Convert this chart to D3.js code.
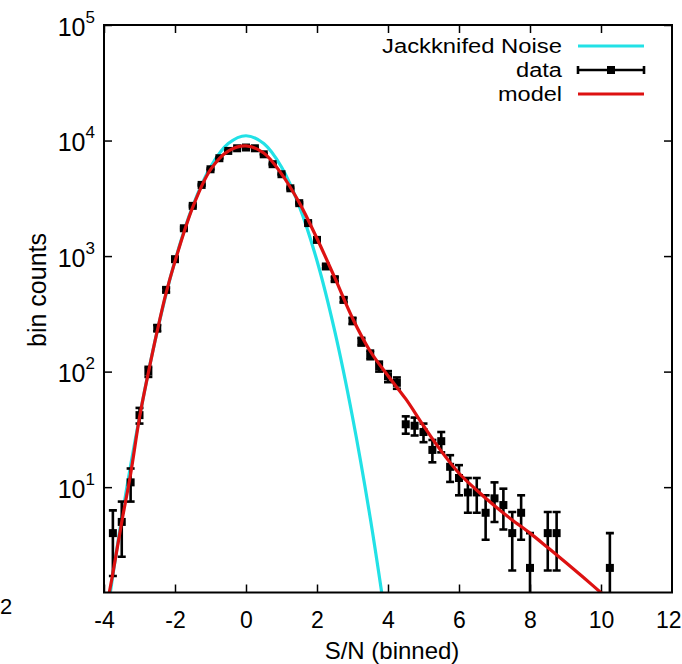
<!DOCTYPE html>
<html>
<head>
<meta charset="utf-8">
<script src="https://cdn.jsdelivr.net/npm/d3@7"></script>
<style>
  html, body { margin: 0; padding: 0; background: #fff; }
  svg { display: block; }
  text { font-family: "Liberation Sans", Arial, Helvetica, sans-serif; fill: #000; }
</style>
</head>
<body>
<svg id="chart" width="682" height="664"></svg>
<script>
// ---------- data ----------
const binCenters = [-3.75,-3.5,-3.25,-3.0,-2.75,-2.5,-2.25,-2.0,-1.75,-1.5,-1.25,-1.0,-0.75,-0.5,-0.25,0,0.25,0.5,0.75,1.0,1.25,1.5,1.75,2.0,2.25,2.5,2.75,3.0,3.25,3.5,3.75,4.0,4.25,4.5,4.75,5.0,5.25,5.5,5.75,6.0,6.25,6.5,6.75,7.0,7.25,7.5,7.75,8.0,8.5,8.75,10.25];
const binCounts = [4,5,11,42,100,238,510,940,1740,2720,4130,5640,7030,8130,8570,8700,8570,7600,6240,5110,3860,2870,1930,1380,813,631,418,275,182,140,111,91,80,35,34,30,21,25,15,12,9,9,6,8,7,4,6,2,4,4,2];
const binErrors = [2.3,2.5,3.5,6.5,10,15,23,31,42,52,64,75,84,90,93,93,93,87,79,72,62,54,44,37,29,25,20,17,14,12,11,10,9,6,6,5.5,4.6,5,3.9,3.5,3,3,2.5,3,2.7,2.1,2.5,2,2.1,2.1,2];

const noiseX = [-4,-3.5,-3,-2.5,-2,-1.5,-1,-0.5,0,0.5,1,1.5,2,2.5,3,3.5,4];
const noiseY = [0.52,5.4,40.5,224,911,2710,5900,9410,11000,9410,5900,2710,911,224,40.5,5.4,0.52];

const modelX = [-4,-3.75,-3.5,-3.25,-3,-2.75,-2.5,-2.25,-2,-1.5,-1,-0.5,0,0.5,1,1.5,2,2.5,3,3.5,4,4.5,5,5.5,6,6.5,7,7.5,8,8.5,9,9.5,10,10.5];
const modelY = [0.7,1.8,5.0,13,40,98,225,480,900,2650,5600,8100,8980,7800,5150,2900,1420,650,290,150,92,58,34,20.5,13.2,9.4,6.9,5.2,4.0,3.0,2.24,1.66,1.22,0.9];

const xTicks = [-4,-2,0,2,4,6,8,10,12];
const yTicks = [10,100,1000,10000,100000];
const legendLabels = ["Jackknifed Noise","data","model"];
const xLabel = "S/N (binned)";
const yLabel = "bin counts";

// ---------- layout ----------
const L = 104, R = 672, T = 25, B = 592.5;
const svg = d3.select("#chart");
const x = d3.scaleLinear().domain([-4, 12]).range([L, R]);
const y = d3.scaleLog().domain([1.225, 1e5]).range([B, T]);

const defs = svg.append("defs");
defs.append("clipPath").attr("id","plotclip").append("rect")
  .attr("x", L).attr("y", T).attr("width", R - L).attr("height", B - T);

// ---------- axes ----------
const tickLen = 8;
const gx = svg.append("g").attr("transform", `translate(0,${B})`)
  .call(d3.axisBottom(x).tickValues(xTicks).tickSize(-tickLen).tickPadding(19).tickFormat(d => String(d)));
const gxt = svg.append("g").attr("transform", `translate(0,${T})`)
  .call(d3.axisTop(x).tickValues(xTicks).tickSize(-tickLen).tickFormat(""));
const gy = svg.append("g").attr("transform", `translate(${L},0)`)
  .call(d3.axisLeft(y).tickValues(yTicks).tickSize(-tickLen).tickFormat(""));
const gyr = svg.append("g").attr("transform", `translate(${R},0)`)
  .call(d3.axisRight(y).tickValues(yTicks).tickSize(-tickLen).tickFormat(""));

[gx, gxt, gy, gyr].forEach(g => {
  g.select(".domain").remove();
  g.selectAll(".tick line").attr("stroke", "#000").attr("stroke-width", 1.5);
});
gx.selectAll(".tick text").attr("font-size", 23).attr("font-family", null);
gx.selectAll(".tick").filter(d => d === 12).select("line").remove();
gx.selectAll(".tick").filter(d => d === 12).select("text")
  .attr("text-anchor", "end").attr("x", 681 - R);
gxt.selectAll(".tick").filter(d => d === 12).select("line").remove();

// y tick labels with superscripts
gy.selectAll(".tick").each(function(d) {
  const t = d3.select(this).append("text")
    .attr("x", -9).attr("y", 10).attr("text-anchor", "end").attr("font-size", 25).attr("fill","#000");
  t.append("tspan").text("10");
  t.append("tspan").attr("font-size", 17).attr("dy", -13).text(String(Math.round(Math.log10(d))));
});

// ---------- curves ----------
const plot = svg.append("g").attr("clip-path", "url(#plotclip)");
const line = d3.line().x(d => x(d[0])).y(d => y(d[1])).curve(d3.curveCatmullRom.alpha(0.5));

plot.append("path").datum(noiseX.map((v, i) => [v, noiseY[i]]))
  .attr("d", line).attr("fill", "none").attr("stroke", "#22e1e6").attr("stroke-width", 3.2);

// data error bars + squares
const pts = binCenters.map((v, i) => ({x: v, c: binCounts[i], e: binErrors[i]}));
const cap = 4;
const eb = plot.append("g").attr("stroke", "#000").attr("stroke-width", 2.6);
pts.forEach(p => {
  const lo = p.c - p.e > 0 ? y(p.c - p.e) : B + 10;
  const hi = y(p.c + p.e);
  const cx = x(p.x);
  eb.append("line").attr("x1", cx).attr("x2", cx).attr("y1", lo).attr("y2", hi);
  eb.append("line").attr("x1", cx - cap).attr("x2", cx + cap).attr("y1", hi).attr("y2", hi);
  eb.append("line").attr("x1", cx - cap).attr("x2", cx + cap).attr("y1", lo).attr("y2", lo);
});
plot.append("g").selectAll("rect").data(pts).join("rect")
  .attr("x", d => x(d.x) - 4).attr("y", d => y(d.c) - 4)
  .attr("width", 8).attr("height", 8).attr("fill", "#000");

plot.append("path").datum(modelX.map((v, i) => [v, modelY[i]]))
  .attr("d", line).attr("fill", "none").attr("stroke", "#dd1111").attr("stroke-width", 3.2);

// frame
svg.append("rect").attr("x", L).attr("y", T).attr("width", R - L).attr("height", B - T)
  .attr("fill", "none").attr("stroke", "#000").attr("stroke-width", 2);

// ---------- legend ----------
const lg = svg.append("g");
const rows = [46, 70, 94];
const widths = [180, 46, 64];
const lx1 = 578, lx2 = 644;
legendLabels.forEach((lab, i) => {
  lg.append("text").attr("x", 562).attr("y", rows[i] + 7).attr("text-anchor", "end")
    .attr("font-size", 20).attr("textLength", widths[i]).attr("lengthAdjust", "spacingAndGlyphs")
    .text(lab);
});
lg.append("line").attr("x1", lx1).attr("x2", lx2).attr("y1", rows[0]).attr("y2", rows[0])
  .attr("stroke", "#22e1e6").attr("stroke-width", 3.2);
lg.append("line").attr("x1", lx1).attr("x2", lx2).attr("y1", rows[1]).attr("y2", rows[1])
  .attr("stroke", "#000").attr("stroke-width", 2.6);
[lx1, lx2].forEach(xx => lg.append("line").attr("x1", xx).attr("x2", xx)
  .attr("y1", rows[1] - 4).attr("y2", rows[1] + 4).attr("stroke", "#000").attr("stroke-width", 2.6));
lg.append("rect").attr("x", (lx1 + lx2) / 2 - 4).attr("y", rows[1] - 4).attr("width", 8).attr("height", 8).attr("fill", "#000");
lg.append("line").attr("x1", lx1).attr("x2", lx2).attr("y1", rows[2]).attr("y2", rows[2])
  .attr("stroke", "#dd1111").attr("stroke-width", 3.2);

// ---------- axis titles ----------
svg.append("text").attr("x", 392).attr("y", 659).attr("text-anchor", "middle")
  .attr("font-size", 24).text(xLabel);
svg.append("text").attr("transform", `translate(46,${290}) rotate(-90)`).attr("text-anchor", "middle")
  .attr("font-size", 25).text(yLabel);

// stray label at the lower-left edge
svg.append("text").attr("x", 0).attr("y", 614).attr("font-size", 22).text("2");
</script>
</body>
</html>
